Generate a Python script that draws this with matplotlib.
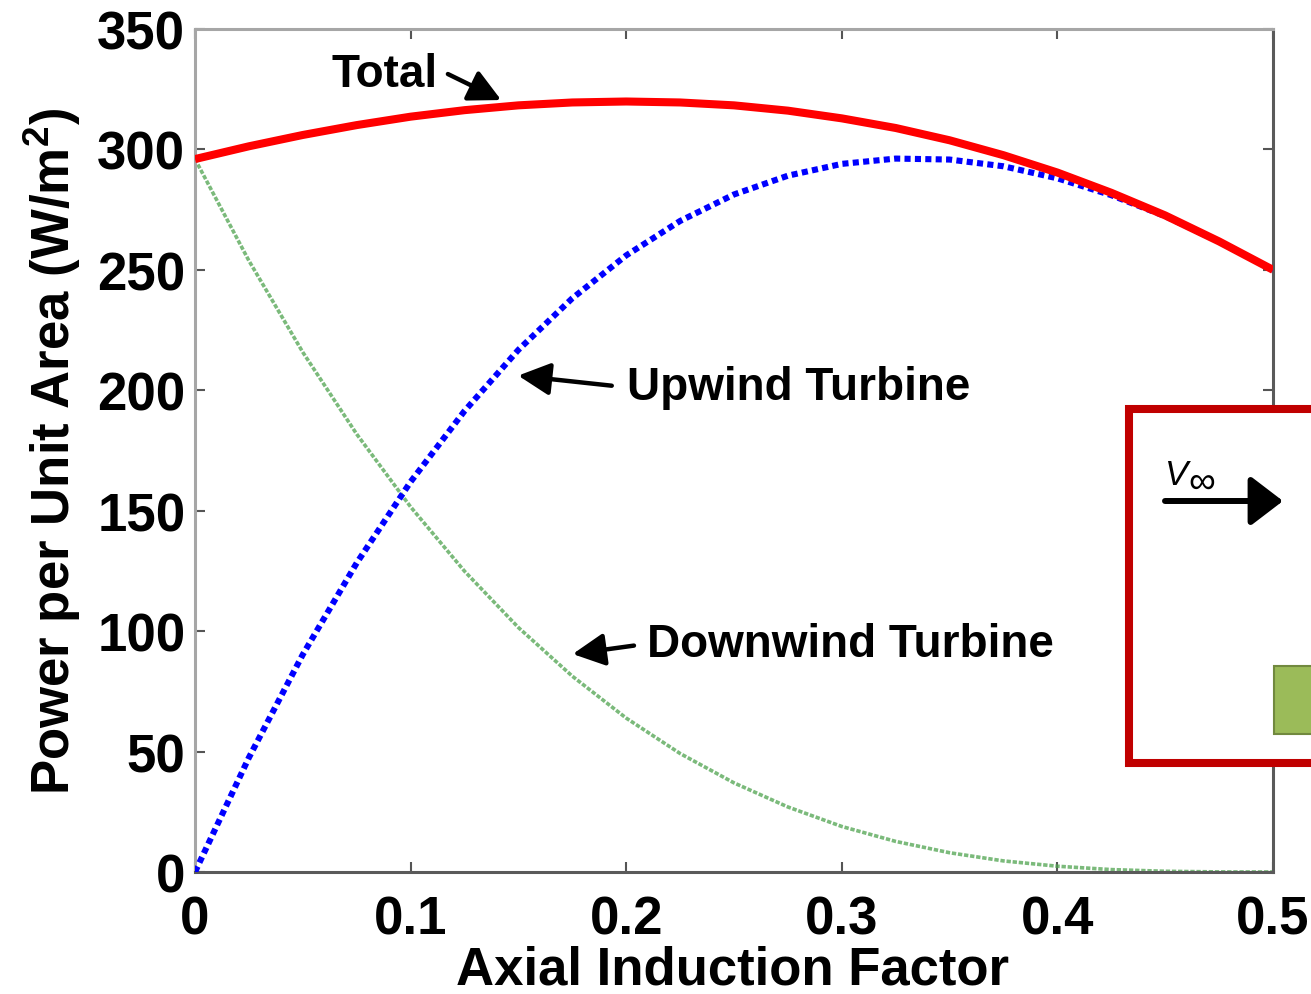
import matplotlib
matplotlib.use("Agg")
import matplotlib.pyplot as plt
from matplotlib.patches import Rectangle, FancyArrowPatch

# ---- data ----
axial_induction = [0.0, 0.025, 0.05, 0.075, 0.1, 0.125, 0.15, 0.175, 0.2, 0.225, 0.25,
                   0.275, 0.3, 0.325, 0.35, 0.375, 0.4, 0.425, 0.45, 0.475, 0.5]
upwind_power = [0.0, 47.5, 90.3, 128.3, 162.0, 191.4, 216.8, 238.2, 256.0, 270.3, 281.3,
                289.1, 294.0, 296.2, 295.8, 293.0, 288.0, 281.0, 272.3, 261.8, 250.0]
downwind_power = [296.0, 253.8, 215.8, 181.8, 151.6, 124.9, 101.5, 81.3, 63.9, 49.2, 37.0,
                  27.0, 18.9, 12.7, 8.0, 4.6, 2.4, 1.0, 0.3, 0.04, 0.0]
total_power = [296.0, 301.3, 306.0, 310.1, 313.6, 316.3, 318.3, 319.5, 319.9, 319.5, 318.3,
               316.1, 312.9, 308.9, 303.8, 297.6, 290.4, 282.0, 272.6, 261.8, 250.0]

x_ticks = [0, 0.1, 0.2, 0.3, 0.4, 0.5]
x_tick_labels = ["0", "0.1", "0.2", "0.3", "0.4", "0.5"]
y_ticks = [0, 50, 100, 150, 200, 250, 300, 350]
y_tick_labels = ["0", "50", "100", "150", "200", "250", "300", "350"]

plt.rcParams['font.family'] = ['Liberation Sans', 'DejaVu Sans']
plt.rcParams['mathtext.fontset'] = 'custom'
plt.rcParams['mathtext.rm'] = 'Liberation Sans'
plt.rcParams['mathtext.it'] = 'Liberation Sans:italic'
plt.rcParams['mathtext.bf'] = 'Liberation Sans:bold'

W, H = 1311, 995
fig = plt.figure(figsize=(W / 100, H / 100), dpi=100)
ax = fig.add_axes([195 / W, (H - 873) / H, (1273 - 195) / W, (873 - 30) / H])

ax.plot(axial_induction, downwind_power, color='#4fa34f', lw=2.6, alpha=0.75,
        linestyle=(0, (1.2, 0.5)), zorder=2)
ax.plot(axial_induction, upwind_power, color='#0000ff', lw=4.4,
        linestyle=(0, (1.0, 0.7)), zorder=3)
ax.plot(axial_induction, total_power, color='#ff0000', lw=5.8, zorder=4,
        solid_capstyle='butt')

ax.set_xlim(0, 0.5)
ax.set_ylim(0, 350)
ax.set_xticks(x_ticks)
ax.set_xticklabels(x_tick_labels)
ax.set_yticks(y_ticks)
ax.set_yticklabels(y_tick_labels)

ax.tick_params(axis='both', direction='in', length=7, width=1.5, color='#555555',
               labelsize=38, top=True, right=True)
ax.tick_params(axis='y', pad=7)
ax.tick_params(axis='x', pad=16)
for lab in ax.get_xticklabels() + ax.get_yticklabels():
    lab.set_fontweight('bold')

for side, col in [('left', '#a6a6a6'), ('top', '#a6a6a6'),
                  ('bottom', '#5a5a5a'), ('right', '#5a5a5a')]:
    ax.spines[side].set_color(col)
    ax.spines[side].set_linewidth(2.2)

ax.set_xlabel('Axial Induction Factor', fontsize=38, fontweight='bold')
ax.set_ylabel(r'Power per Unit Area (W/m$^{\mathbf{2}}$)', fontsize=38, fontweight='bold')
ax.xaxis.set_label_coords(0.499, -0.086)
ax.yaxis.set_label_coords(-0.104, 0.5)

# annotations
arrow_kw = dict(arrowstyle='-|>,head_length=0.75,head_width=0.38', color='black',
                lw=3.2, mutation_scale=26, shrinkA=0, shrinkB=0)
ax.text(0.0634, 326.3, 'Total', fontsize=33, fontweight='bold', ha='left', va='baseline')
ax.annotate('', xy=(0.142, 320.5), xytext=(0.1173, 331.3), arrowprops=arrow_kw)

ax.text(0.2004, 196.4, 'Upwind Turbine', fontsize=33, fontweight='bold',
        ha='left', va='baseline')
ax.annotate('', xy=(0.1499, 206.1), xytext=(0.1933, 201.9), arrowprops=arrow_kw)

ax.text(0.2096, 89.8, 'Downwind Turbine', fontsize=33, fontweight='bold',
        ha='left', va='baseline')
ax.annotate('', xy=(0.1752, 90.5), xytext=(0.2036, 94.0), arrowprops=arrow_kw)

# inset diagram (partially cropped at the right edge)
def fx(px):
    return px / W

def fy(py):
    return (H - py) / H

box = Rectangle((fx(1129), fy(764)), fx(1420) - fx(1129), fy(410) - fy(764),
                transform=fig.transFigure, facecolor='white', edgecolor='#c00000',
                lw=5.8, zorder=10, clip_on=False)
fig.add_artist(box)
green = Rectangle((fx(1274), fy(735)), fx(1400) - fx(1274), fy(667) - fy(735),
                  transform=fig.transFigure, facecolor='#9bbb59', edgecolor='#71893f',
                  lw=1.5, zorder=11, clip_on=False)
fig.add_artist(green)
fig.text(fx(1165), fy(485), 'V', fontsize=25, fontstyle='italic', ha='left',
         va='baseline', zorder=12)
fig.text(fx(1188), fy(493), '\u221e', fontsize=27, ha='left', va='baseline', zorder=12)
v_arrow = FancyArrowPatch((fx(1165), fy(502)), (fx(1283), fy(502)),
                          transform=fig.transFigure,
                          arrowstyle='-|>,head_length=0.55,head_width=0.42',
                          color='black', lw=4.3, mutation_scale=36,
                          shrinkA=0, shrinkB=0, zorder=12)
fig.add_artist(v_arrow)

fig.savefig('out.png', dpi=100)
